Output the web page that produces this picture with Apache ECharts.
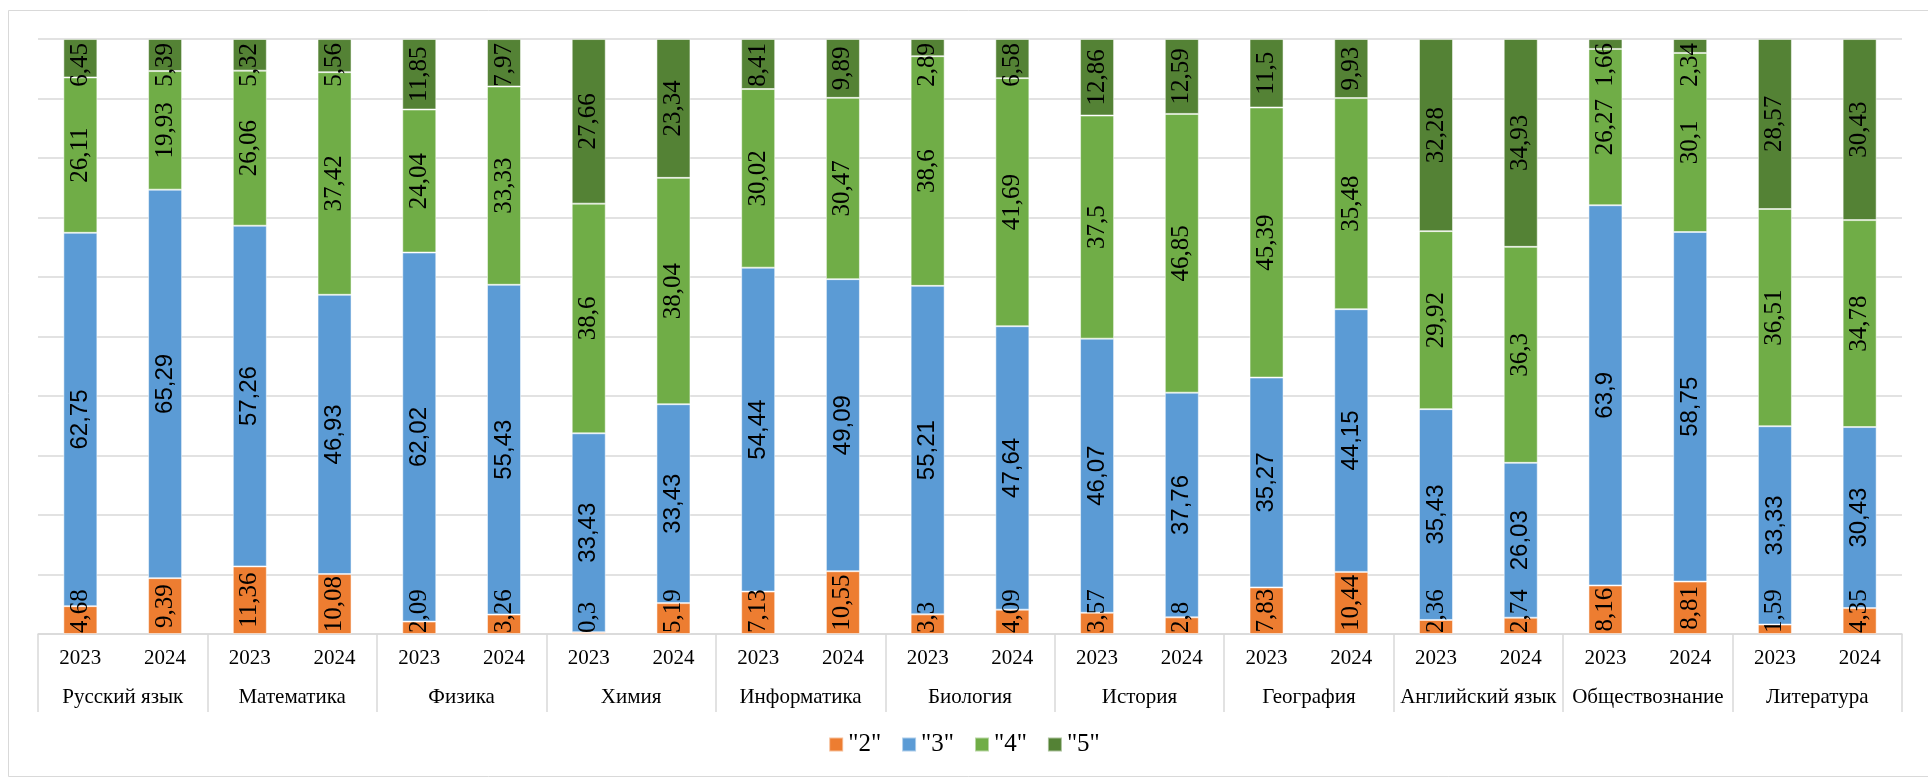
<!DOCTYPE html>
<html><head><meta charset="utf-8">
<script src="https://cdn.jsdelivr.net/npm/echarts@6/dist/echarts.min.js"></script>
<style>html,body{margin:0;padding:0;background:#fff}#c{width:1928px;height:780px}</style>
</head><body><div id="c"></div>
<script>
const subjects = ["Русский язык","Математика","Физика","Химия","Информатика","Биология","История","География","Английский язык","Обществознание","Литература"];
const years = ["2023","2024"];
const seriesNames = ['"2"','"3"','"4"','"5"'];
const grade2 = [4.68,9.39, 11.36,10.08, 2.09,3.26, 0.3,5.19, 7.13,10.55, 3.3,4.09, 3.57,2.8, 7.83,10.44, 2.36,2.74, 8.16,8.81, 1.59,4.35];
const grade3 = [62.75,65.29, 57.26,46.93, 62.02,55.43, 33.43,33.43, 54.44,49.09, 55.21,47.64, 46.07,37.76, 35.27,44.15, 35.43,26.03, 63.9,58.75, 33.33,30.43];
const grade4 = [26.11,19.93, 26.06,37.42, 24.04,33.33, 38.6,38.04, 30.02,30.47, 38.6,41.69, 37.5,46.85, 45.39,35.48, 29.92,36.3, 26.27,30.1, 36.51,34.78];
const grade5 = [6.45,5.39, 5.32,5.56, 11.85,7.97, 27.66,23.34, 8.41,9.89, 2.89,6.58, 12.86,12.59, 11.5,9.93, 32.28,34.93, 1.66,2.34, 28.57,30.43];
const colors = ['#ED7D31','#5B9BD5','#70AD47','#548235'];

const yearCats = [];
subjects.forEach(() => years.forEach(y => yearCats.push(y)));
const font = 'Liberation Serif';
const labelFonts = ['Liberation Serif','Liberation Sans','Liberation Serif','Liberation Serif'];
const labelSizes = [25, 24, 25, 25];
const allData = [grade2, grade3, grade4, grade5];
const GRID_TOP = 39, GRID_BOTTOM_PX = 634;
const PLOT_H = GRID_BOTTOM_PX - GRID_TOP;

const fmt = v => String(v).replace('.', ',');
// keep rotated labels inside the plot area (as the original chart does)
function labelShift(si, idx) {
  let start = 0;
  for (let k = 0; k < si; k++) start += allData[k][idx];
  const v = allData[si][idx];
  const centerPx = PLOT_H * (1 - (start + v / 2) / 100); // from plot top
  const txt = fmt(v);
  let em = 0;
  for (const ch of txt) em += (ch === ',') ? 0.25 : (labelFonts[si] === 'Liberation Sans' ? 0.556 : 0.5);
  const half = em * labelSizes[si] / 2;
  if (centerPx - half < 4) return 4 - (centerPx - half);
  if (centerPx + half > PLOT_H - 1) return (PLOT_H - 1) - (centerPx + half);
  return 0;
}

const chart = echarts.init(document.getElementById('c'), null, {renderer:'canvas'});
chart.setOption({
  animation: false,
  backgroundColor: '#fff',
  graphic: [{type:'rect', shape:{x:8.5,y:10.5,width:1930,height:766}, style:{fill:'none', stroke:'#d9d9d9', lineWidth:1}, z:-10}],
  grid: {left:38, right:26, top:GRID_TOP, bottom:780-GRID_BOTTOM_PX},
  legend: {
    bottom: 18, left: 'center',
    icon: 'rect', itemWidth: 14, itemHeight: 14, itemGap: 20,
    textStyle: {fontFamily: font, fontSize: 25, color: '#000'},
    data: seriesNames
  },
  xAxis: [
    {type:'category', data: yearCats, position:'bottom',
     axisLine:{show:true, lineStyle:{color:'#d9d9d9', width:1.5}},
     axisTick:{show:false},
     axisLabel:{interval:0, margin:14, fontFamily:font, fontSize:21, color:'#000'}},
    {type:'category', data: subjects, position:'bottom',
     axisLine:{show:false},
     axisTick:{show:true, length:78, interval:0, lineStyle:{color:'#d9d9d9', width:1.5}},
     axisLabel:{interval:0, margin:53, fontFamily:font, fontSize:21, color:'#000'}}
  ],
  yAxis: {type:'value', min:0, max:100, interval:10,
    axisLabel:{show:false}, axisLine:{show:false}, axisTick:{show:false},
    splitLine:{lineStyle:{color:'#d9d9d9', width:1.5}}},
  series: seriesNames.map((n,i) => ({
    name: n, type:'bar', stack:'total', xAxisIndex:0, barWidth:34,
    data: allData[i].map((v, idx) => {
      const dy = labelShift(i, idx);
      // label is rotated 90°, so its local x axis points up on screen
      return dy ? {value: v, label: {offset: [-dy, 0]}} : v;
    }),
    itemStyle:{color: colors[i], borderColor:'rgba(255,255,255,0.5)', borderWidth:1},
    label:{show:true, position:'inside', rotate:90, fontFamily:labelFonts[i], fontSize:labelSizes[i], color:'#000',
      formatter: p => fmt(p.value)}
  }))
});
</script></body></html>
